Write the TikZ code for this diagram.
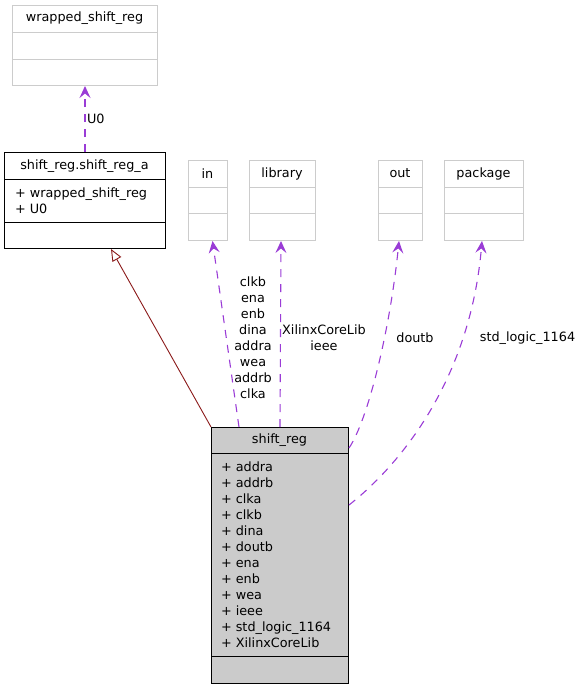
\documentclass[tikz,border=0pt]{standalone}
\usepackage{fontspec}
\setmainfont{DejaVu Sans}
\usetikzlibrary{arrows.meta,positioning}
\definecolor{usecol}{RGB}{154,60,214}
\definecolor{inhcol}{RGB}{139,26,26}
\definecolor{lightgray}{RGB}{204,204,204}
\definecolor{mainfill}{RGB}{203,203,203}
\tikzset{
  classbox/.style={draw=lightgray, line width=1pt, fill=white, inner sep=0pt, anchor=north west},
  mainbox/.style={draw=black, line width=1pt, fill=mainfill, inner sep=0pt, anchor=north west},
  useedge/.style={usecol, line width=1.1pt, dash pattern=on 8pt off 7pt, -{Stealth[length=12pt, width=11pt, inset=4.5pt]}},
  inhedge/.style={inhcol, line width=0.9pt, -{Triangle[open, length=12pt, width=10pt, fill=white]}},
  attrs/.style={anchor=west, align=left}
}
\begin{document}
\begin{tikzpicture}[x=1pt, y=-1pt, font=\fontsize{12.8}{16}\selectfont]
  \useasboundingbox (0,0) rectangle (585,691);
  % class boxes
  \node[classbox, minimum width=145, minimum height=80] (wrapped) at (12,5) {};
  \draw[lightgray, line width=1pt] (12,32) -- (157,32) (12,59) -- (157,59);
  \node (wrappedT) at (84.5,18.5) {wrapped\_shift\_reg};

  \node[mainbox, fill=white, minimum width=161, minimum height=96] (shiftA) at (4,152) {};
  \draw[line width=1pt] (4,179) -- (165,179) (4,222) -- (165,222);
  \node (shiftAT) at (84.5,166) {shift\_reg.shift\_reg\_a};
  \node[attrs] (shiftAA) at (11.5,200.5) {+ wrapped\_shift\_reg\\+ U0};

  \node[classbox, minimum width=39, minimum height=80] (in) at (188,160) {};
  \draw[lightgray, line width=1pt] (188,187) -- (227,187) (188,213) -- (227,213);
  \node (inT) at (207.5,173.5) {in};

  \node[classbox, minimum width=66, minimum height=80] (library) at (249,160) {};
  \draw[lightgray, line width=1pt] (249,187) -- (315,187) (249,213) -- (315,213);
  \node (libraryT) at (282,173.5) {library};

  \node[classbox, minimum width=44, minimum height=80] (out) at (378,160) {};
  \draw[lightgray, line width=1pt] (378,187) -- (422,187) (378,213) -- (422,213);
  \node (outT) at (400,173.5) {out};

  \node[classbox, minimum width=79, minimum height=80] (package) at (444,160) {};
  \draw[lightgray, line width=1pt] (444,187) -- (523,187) (444,213) -- (523,213);
  \node (packageT) at (483.5,173.5) {package};

  \node[mainbox, minimum width=137, minimum height=256] (shiftreg) at (211,427) {};
  \draw[line width=1pt] (211,453) -- (348,453) (211,656) -- (348,656);
  \node (shiftregT) at (279.5,440) {shift\_reg};
  \node[attrs] (shiftregA) at (217.5,554.5) {+ addra\\+ addrb\\+ clka\\+ clkb\\+ dina\\+ doutb\\+ ena\\+ enb\\+ wea\\+ ieee\\+ std\_logic\_1164\\+ XilinxCoreLib};

  % connectors
  \draw[useedge] (shiftA) -- node[right, inner sep=1.5pt, text=black] (U0lbl) {U0} (wrapped);
  \draw[inhedge] (shiftreg.north west) -- ([xshift=107]shiftA.south west);
  \draw[useedge] ([xshift=28]shiftreg.north west) -- ([xshift=4.5]in.south);
  \draw[useedge] ([xshift=69]shiftreg.north west) -- ([xshift=-1.5]library.south);
  \draw[useedge] ([yshift=-21]shiftreg.north east) .. controls (368,420) and (390,330) .. ([xshift=-1.5]out.south);
  \draw[useedge] ([yshift=-78]shiftreg.north east) .. controls (400,465) and (470,380) .. ([xshift=-2]package.south);

  % edge labels
  \node[align=center] (inLbl) at (253,337.5) {clkb\\ena\\enb\\dina\\addra\\wea\\addrb\\clka};
  \node[align=center] (libraryLbl) at (324,337.5) {XilinxCoreLib\\ieee};
  \node (outLbl) at (415,338) {doutb};
  \node (packageLbl) at (527.5,338) {std\_logic\_1164};
\end{tikzpicture}
\end{document}
